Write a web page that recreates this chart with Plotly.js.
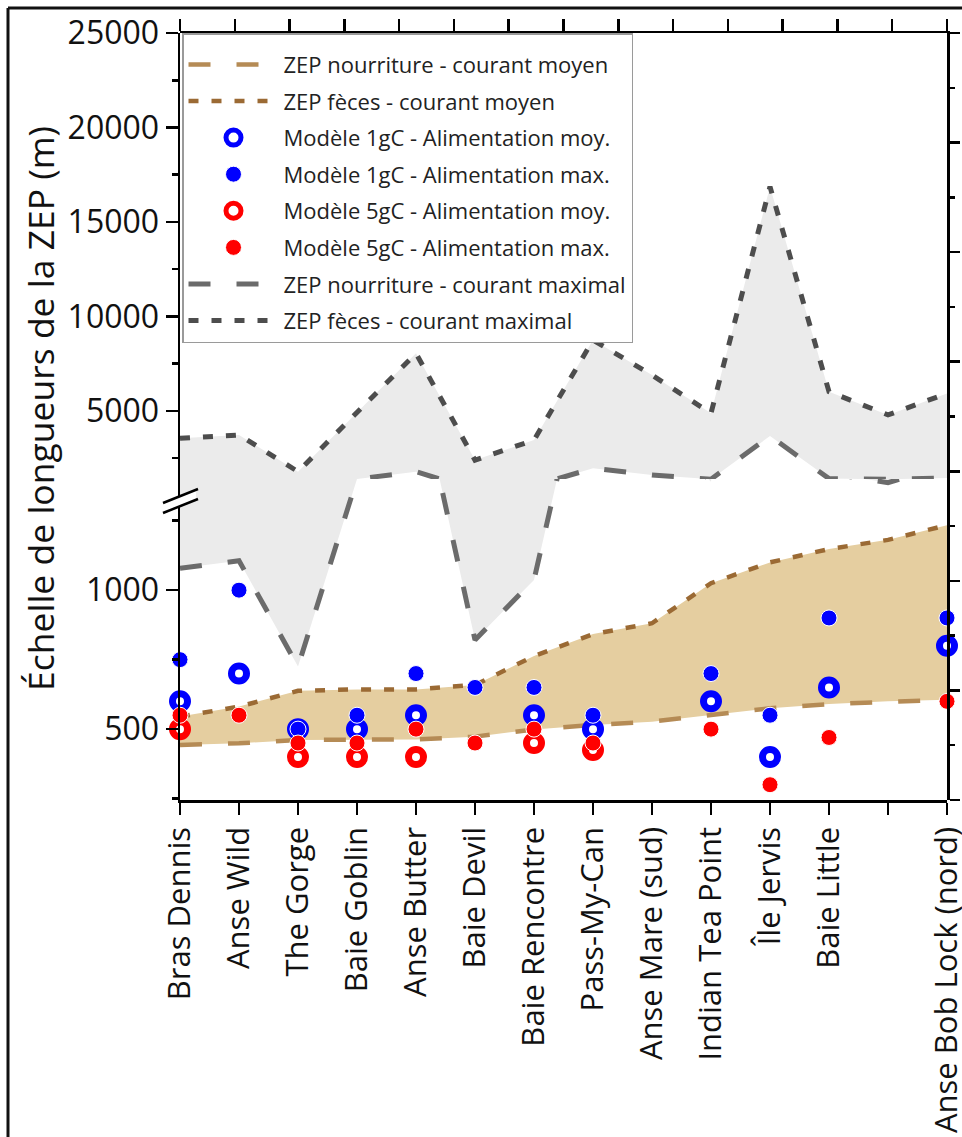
<!DOCTYPE html>
<html><head><meta charset="utf-8">
<script src="https://cdn.plot.ly/plotly-3.0.1.min.js"></script>
<style>html,body{margin:0;padding:0;background:#fff}#chart{width:962px;height:1137px}</style>
</head><body><div id="chart"></div>
<script>
// ---- data ----
const sites = ["Bras Dennis","Anse Wild","The Gorge","Baie Goblin","Anse Butter","Baie Devil","Baie Rencontre","Pass-My-Can","Anse Mare (sud)","Indian Tea Point","Île Jervis","Baie Little"," ","Anse Bob Lock (nord)"];
const zepNourMoy  = [443,449,461,463,463,473,499,515,527,551,575,590,600,606];
const zepFecesMoy = [545,581,638,643,643,659,763,842,881,1025,1100,1148,1181,1234];
const zepNourMax  = [1079,1106,725,1400,1786,821,1037,1966,1612,1390,3675,1420,1387,1450];
const zepFecesMax = [3550,3730,1790,4900,8050,2400,3460,8750,6900,4880,16870,6020,4790,5930];
const m1gMoy = [600,700,500,500,550,null,550,500,null,600,400,650,null,800];
const m1gMax = [750,1000,500,550,700,650,650,550,null,700,550,900,null,900];
const m5gMoy = [500,null,400,400,400,null,450,425,null,null,null,null,null,null];
const m5gMax = [550,550,450,450,500,450,500,450,null,500,300,470,null,600];

const names = {
  nm: "ZEP nourriture - courant moyen",
  fm: "ZEP fèces - courant moyen",
  b1: "Modèle 1gC - Alimentation moy.",
  b2: "Modèle 1gC - Alimentation max.",
  r1: "Modèle 5gC - Alimentation moy.",
  r2: "Modèle 5gC - Alimentation max.",
  nx: "ZEP nourriture - courant maximal",
  fx: "ZEP fèces - courant maximal"
};

// ---- styles ----
const FONT = "'Open Sans', sans-serif";
const TAN = "rgb(229,206,160)", GRAYFILL = "rgb(235,235,235)";
const lineNM = {color:"#b58b55", width:4.5, dash:"22px,26px"};
const lineFM = {color:"#9b6a34", width:4.5, dash:"10px,13px"};
const lineNX = {color:"#6b6b6b", width:5, dash:"22px,26px"};
const lineFX = {color:"#4d4d4d", width:5, dash:"10px,13px"};
const BLUE = "#0000ff", RED = "#ff0000";
const ranks = {nm:1, fm:2, b1:3, b2:4, r1:5, r2:6, nx:7, fx:8};

const traces = [];
function fillPair(lo, hi, color, ya, grpLo, grpHi){
  traces.push({x:sites, y:lo, xaxis:"x", yaxis:ya, type:"scatter", mode:"lines",
    line:{width:0, color:"rgba(0,0,0,0)"}, showlegend:false, hoverinfo:"skip",
    legendgroup:grpLo, legendrank:ranks[grpLo]});
  traces.push({x:sites, y:hi, xaxis:"x", yaxis:ya, type:"scatter", mode:"lines", fill:"tonexty",
    fillcolor:color, line:{width:0, color:"rgba(0,0,0,0)"}, showlegend:false, hoverinfo:"skip",
    legendgroup:grpHi, legendrank:ranks[grpHi]});
}
function lineTrace(y, ya, grp, style, show){
  traces.push({x:sites, y:y, xaxis:"x", yaxis:ya, type:"scatter", mode:"lines",
    line:style, name:names[grp], legendgroup:grp, legendrank:ranks[grp], showlegend:show});
}
function markerTrace(y, grp, marker){
  traces.push({x:sites, y:y, xaxis:"x", yaxis:"y", type:"scatter", mode:"markers",
    marker:marker, name:names[grp], legendgroup:grp, legendrank:ranks[grp], cliponaxis:false});
}

// lower segment (y) and upper segment (y2) of the broken axis
fillPair(zepNourMoy, zepFecesMoy, TAN, "y", "nm", "fm");
fillPair(zepNourMax, zepFecesMax, GRAYFILL, "y", "nx", "fx");
fillPair(zepNourMax, zepFecesMax, GRAYFILL, "y2", "nx", "fx");
lineTrace(zepNourMoy, "y", "nm", lineNM, true);
lineTrace(zepFecesMoy, "y", "fm", lineFM, true);
lineTrace(zepNourMax, "y", "nx", lineNX, true);
lineTrace(zepFecesMax, "y", "fx", lineFX, true);
lineTrace(zepNourMax, "y2", "nx", lineNX, false);
lineTrace(zepFecesMax, "y2", "fx", lineFX, false);
markerTrace(m1gMoy, "b1", {symbol:"circle", size:15, color:"#ffffff", line:{color:BLUE, width:7}});
markerTrace(m1gMax, "b2", {symbol:"circle", size:16, color:BLUE, line:{color:"#ffffff", width:1}});
markerTrace(m5gMoy, "r1", {symbol:"circle", size:15, color:"#ffffff", line:{color:RED, width:7}});
markerTrace(m5gMax, "r2", {symbol:"circle", size:16, color:RED, line:{color:"#ffffff", width:1}});
// frame axes (top and right tick rows) need a subplot: attach a trace that draws nothing
traces.push({x:sites, y:zepNourMoy, xaxis:"x2", yaxis:"y3", type:"scatter", mode:"none",
  showlegend:false, hoverinfo:"skip"});

// ---- geometry ----
const L=180, R=15, T=33, B=337, W=962, H=1137;
const pw = W-L-R, ph = H-T-B;
const px2x = p => (p-L)/pw;
const py2y = p => (H-B-p)/ph;
const breakPx = 479;
const splitY = py2y(breakPx);

const axBase = {showline:true, linecolor:"#000", linewidth:2.5, ticks:"outside", tickcolor:"#000",
  tickwidth:2.5, showgrid:false, zeroline:false, fixedrange:true};

const layout = {
  width:W, height:H,
  margin:{l:L, r:R, t:T, b:B, pad:0},
  paper_bgcolor:"#ffffff", plot_bgcolor:"rgba(0,0,0,0)",
  font:{family:FONT, size:30, color:"#111"},
  showlegend:true,
  legend:{x:px2x(182), y:1, xanchor:"left", yanchor:"top", bgcolor:"#ffffff",
    bordercolor:"#9a9a9a", borderwidth:1.5, font:{family:FONT, size:22, color:"#222"},
    title:{text:" ", font:{size:7}},
    traceorder:"grouped", tracegroupgap:5, itemwidth:90},
  xaxis: Object.assign({}, axBase, {type:"category", range:[0,13], domain:[0,1], anchor:"y",
    ticklen:12, tickangle:-90, tickfont:{family:FONT, size:31, color:"#111"}}),
  yaxis: Object.assign({}, axBase, {domain:[0, splitY], range:[245,1400], anchor:"x",
    tickmode:"linear", tick0:0, dtick:500, ticklen:12, tickformat:"d",
    minor:{dtick:250, ticklen:6, tickwidth:2.5, tickcolor:"#000", ticks:"outside"},
    tickfont:{family:FONT, size:32, color:"#111"}}),
  yaxis2: Object.assign({}, axBase, {domain:[splitY, 1], range:[1400,25000], anchor:"x",
    tickmode:"linear", tick0:0, dtick:5000, ticklen:12, tickformat:"d",
    minor:{dtick:2500, ticklen:6, tickwidth:2.5, tickcolor:"#000", ticks:"outside"},
    tickfont:{family:FONT, size:32, color:"#111"}}),
  xaxis2: Object.assign({}, axBase, {type:"linear", domain:[0,1], anchor:"y3", side:"top", range:[0,14],
    tickmode:"linear", tick0:0, dtick:1, ticklen:12, showticklabels:false}),
  yaxis3: Object.assign({}, axBase, {type:"linear", domain:[0,1], anchor:"x2", side:"right", range:[0,14],
    tickmode:"linear", tick0:0, dtick:2, ticklen:10, showticklabels:false,
    minor:{dtick:1, ticklen:5, tickwidth:2.5, tickcolor:"#000", ticks:"outside"}}),
  annotations:[{text:"Échelle de longueurs de la ZEP (m)", xref:"paper", yref:"paper",
    x:px2x(40), y:py2y(409), textangle:-90, showarrow:false, xanchor:"center", yanchor:"middle",
    font:{family:FONT, size:35.5, color:"#111"}}],
  shapes:[
    // figure frame (top and left edges)
    {type:"line", xref:"paper", yref:"paper", x0:px2x(8), x1:px2x(962), y0:py2y(8), y1:py2y(8), line:{color:"#111", width:3}},
    {type:"line", xref:"paper", yref:"paper", x0:px2x(8), x1:px2x(8), y0:py2y(8), y1:py2y(1137), line:{color:"#111", width:3}},
    // axis break symbol
    {type:"path", xref:"paper", yref:"paper", fillcolor:"#ffffff", line:{width:0},
      path:`M${px2x(166)},${py2y(502)} L${px2x(196)},${py2y(490)} L${px2x(196)},${py2y(500)} L${px2x(166)},${py2y(512)} Z`},
    {type:"line", xref:"paper", yref:"paper", x0:px2x(163), y0:py2y(503), x1:px2x(198), y1:py2y(489), line:{color:"#000", width:2.5}},
    {type:"line", xref:"paper", yref:"paper", x0:px2x(163), y0:py2y(513), x1:px2x(198), y1:py2y(499), line:{color:"#000", width:2.5}}
  ]
};

Plotly.newPlot("chart", traces, layout, {staticPlot:true, displayModeBar:false});
</script>
</body></html>
